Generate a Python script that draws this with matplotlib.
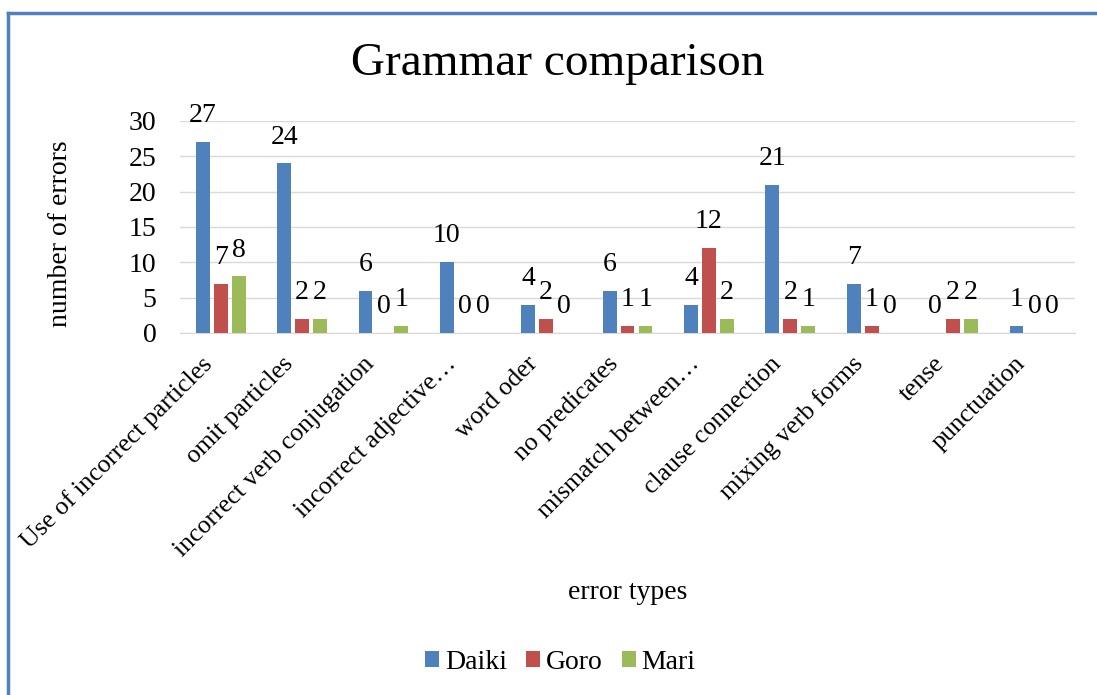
import matplotlib
matplotlib.use('Agg')
import matplotlib.pyplot as plt
import matplotlib.transforms as mtransforms
import numpy as np
from matplotlib.lines import Line2D

plt.rcParams['font.family'] = ['Liberation Serif', 'DejaVu Serif']

# 데이터
categories = ['Use of incorrect particles', 'omit particles', 'incorrect verb conjugation',
              'incorrect adjective…', 'word oder', 'no predicates', 'mismatch between…',
              'clause connection', 'mixing verb forms', 'tense', 'punctuation']
daiki = [27, 24, 6, 10, 4, 6, 4, 21, 7, 0, 1]
goro  = [7, 2, 0, 0, 2, 1, 12, 2, 1, 2, 0]
mari  = [8, 2, 1, 0, 0, 1, 2, 1, 0, 2, 0]
series_names = ['Daiki', 'Goro', 'Mari']
colors = ['#4F81BD', '#C0504D', '#9BBB59']
y_ticks = [0, 5, 10, 15, 20, 25, 30]

fig = plt.figure(figsize=(10.97, 6.95), dpi=100)
ax = fig.add_axes([0.1641, 0.5209, 0.8159, 0.305])

x = np.arange(len(categories))
width = 0.17
offsets = [-0.22, 0, 0.22]

for data, name, col, off in zip([daiki, goro, mari], series_names, colors, offsets):
    bars = ax.bar(x + off, data, width, color=col, label=name, zorder=3)
    for b, v in zip(bars, data):
        ax.annotate(str(v), (b.get_x() + b.get_width() / 2, v),
                    xytext=(0, 10), textcoords='offset points',
                    ha='center', va='bottom', fontsize=20)

# 축 설정
ax.set_xlim(-0.5, len(categories) - 0.5)
ax.set_ylim(0, 30)
ax.set_yticks(y_ticks)
ax.tick_params(axis='y', labelsize=20, length=0, pad=17)
ax.set_xticks(x)
ax.set_xticklabels(categories, rotation=45, ha='right', rotation_mode='anchor', fontsize=18.5)
ax.tick_params(axis='x', length=0, pad=10)
shift = mtransforms.ScaledTranslation(-14.5 / 72, -4 / 72, fig.dpi_scale_trans)
for lbl in ax.get_xticklabels():
    lbl.set_transform(lbl.get_transform() + shift)
ax.grid(axis='y', color='#d9d9d9', linewidth=1, zorder=0)
for s in ['top', 'right', 'left']:
    ax.spines[s].set_visible(False)
ax.spines['bottom'].set_color('#d9d9d9')

ax.set_ylabel('number of errors', fontsize=20)
ax.yaxis.set_label_coords(-0.12, 0.47)

fig.text(0.508, 0.908, 'Grammar comparison', ha='center', va='center', fontsize=34)
fig.text(0.572, 0.147, 'error types', ha='center', va='center', fontsize=20)

fig.legend(loc='center', bbox_to_anchor=(0.511, 0.047), ncol=3, frameon=False,
           fontsize=20, handlelength=0.5, handleheight=0.5, handletextpad=0.2,
           columnspacing=0.7)

# 테두리
fig.add_artist(Line2D([0.0075, 1.0], [0.982, 0.982], color='#4F81BD', linewidth=2.5))
fig.add_artist(Line2D([0.0075, 0.0075], [0.0, 0.982], color='#4F81BD', linewidth=2.5))

fig.savefig('out.png', dpi=100)
